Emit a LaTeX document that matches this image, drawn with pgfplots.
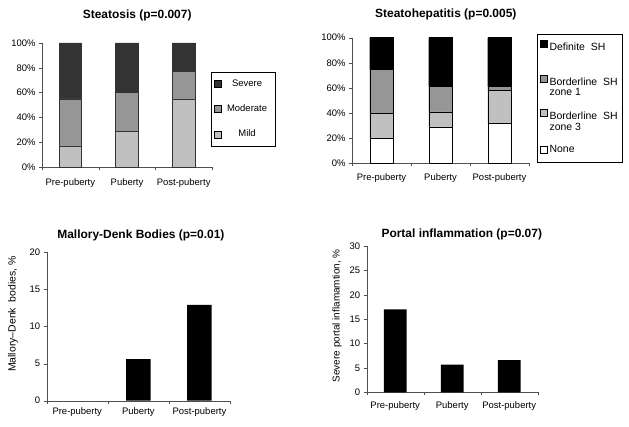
\documentclass[border=0pt]{standalone}
\usepackage{pgfplots}
\pgfplotsset{compat=1.18}
\usepackage{fontspec}
\setmainfont{Liberation Sans}
\definecolor{sev}{HTML}{333333}
\definecolor{mod}{HTML}{969696}
\definecolor{mil}{HTML}{C0C0C0}
\definecolor{axc}{HTML}{505050}
\pgfplotsset{
  common/.style={
    scale only axis,
    axis lines=left,
    axis line style={-, draw=axc},
    xmin=-0.5, xmax=2.5, ymin=0,
    tick align=outside,
    major tick length=3bp,
    tick style={draw=axc},
    xtick={-0.5,0.5,1.5,2.5},
    xticklabels={},
    extra x ticks={0,1,2},
    extra x tick labels={Pre-puberty,Puberty,Post-puberty},
    tick label style={font=\fontsize{9.5}{11}\selectfont},
    /pgf/number format/assume math mode=true,
    title style={font=\fontsize{12}{14}\selectfont\bfseries, anchor=center},
    ylabel style={font=\fontsize{10}{12}\selectfont},
    bar width=0.4,
    clip=false,
  },
  legsq/.style={legend image code/.code={\draw[##1, draw=black] (0bp,-3.5bp) rectangle (7bp,3.5bp);}},
  legsqup/.style={legend image code/.code={\draw[##1, draw=black] (0bp,5.5bp) rectangle (7bp,12.5bp);}},
}
\begin{document}
\begin{tikzpicture}[x=1bp,y=1bp]
\useasboundingbox (0,0) rectangle (629,426);
% Top-left: Steatosis
\begin{axis}[common,
  at={(42bp,259bp)}, anchor=south west,
  width=170bp, height=124bp,
  ymax=100, ytick={0,20,...,100},
  yticklabel={\pgfmathprintnumber{\tick}\%},
  extra x tick style={major tick length=0pt, xticklabel style={yshift=-8bp}},
  title={Steatosis (p=0.007)},
  title style={at={(0.56,1.175)}},
  ybar stacked,
  legsq, reverse legend,
  legend style={at={(0.994,0.766)}, anchor=north west, draw=black,
    font=\fontsize{9.5}{11}\selectfont, row sep=13bp, inner xsep=3bp, inner ysep=5.5bp,
    cells={anchor=center}, text width=47bp, align=center},
]
\addplot[fill=mil, draw=black!80] coordinates {(0,17) (1,29) (2,55)};
\addplot[fill=mod, draw=black!80] coordinates {(0,38) (1,31) (2,22)};
\addplot[fill=sev, draw=black!80] coordinates {(0,45) (1,40) (2,23)};
\legend{Mild,Moderate,Severe}
\end{axis}
% Top-right: Steatohepatitis
\begin{axis}[common,
  at={(352bp,262.7bp)}, anchor=south west,
  width=177bp, height=125.6bp,
  ymax=100, ytick={0,20,...,100},
  yticklabel={\pgfmathprintnumber{\tick}\%},
  extra x tick style={major tick length=0pt, xticklabel style={yshift=-7bp}},
  title={Steatohepatitis (p=0.005)},
  title style={at={(0.53,1.136)}},
  ybar stacked,
  legsq, reverse legend,
  legend cell align=left,
  legend style={at={(1.045,1.03)}, anchor=north west, draw=black,
    font=\fontsize{10.5}{12}\selectfont, row sep=10bp, inner xsep=3bp, inner ysep=6bp},
]
\addplot[fill=white, draw=black] coordinates {(0,20) (1,29) (2,32)};
\addplot[fill=mil, draw=black, legsqup] coordinates {(0,20) (1,12) (2,26)};
\addplot[fill=mod, draw=black, legsqup] coordinates {(0,35) (1,20) (2,3)};
\addplot[fill=black, draw=black, legsqup] coordinates {(0,25) (1,39) (2,39)};
\legend{None,
  {\shortstack[l]{Borderline\ \ SH\\zone 3}},
  {\shortstack[l]{Borderline\ \ SH\\zone 1}},
  {\shortstack[l]{Definite\ \ SH\\\rule{0pt}{8bp}}}}
\end{axis}
% Bottom-left: Mallory-Denk
\begin{axis}[common,
  at={(46.7bp,25.3bp)}, anchor=south west,
  width=183.3bp, height=148.4bp,
  ymax=20, ytick={0,5,...,20},
  extra x tick style={major tick length=0pt, xticklabel style={yshift=-3.5bp}},
  title={Mallory-Denk Bodies (p=0.01)},
  title style={at={(0.514,1.076)}},
  ylabel={Mallory–Denk\ \ bodies, \%},
  ylabel style={at={(-0.184,0.584)}, anchor=center, font=\fontsize{10.5}{12}\selectfont},
  ybar,
]
\addplot[fill=black, draw=none, y filter/.expression={y==0 ? nan : y}, unbounded coords=discard] coordinates {(0,0) (1,5.6) (2,12.9)};
\end{axis}
% Bottom-right: Portal inflammation
\begin{axis}[common,
  at={(366.7bp,33.7bp)}, anchor=south west,
  width=171bp, height=146.3bp,
  ymax=30, ytick={0,5,...,30},
  extra x tick style={major tick length=0pt, xticklabel style={yshift=-6bp}},
  title={Portal inflammation (p=0.07)},
  title style={at={(0.556,1.041)}},
  ylabel={Severe portal inflamamtion, \%},
  ylabel style={at={(-0.174,0.523)}, anchor=center},
  ybar,
]
\addplot[fill=black, draw=none] coordinates {(0,17.0) (1,5.7) (2,6.6)};
\end{axis}
\end{tikzpicture}
\end{document}
